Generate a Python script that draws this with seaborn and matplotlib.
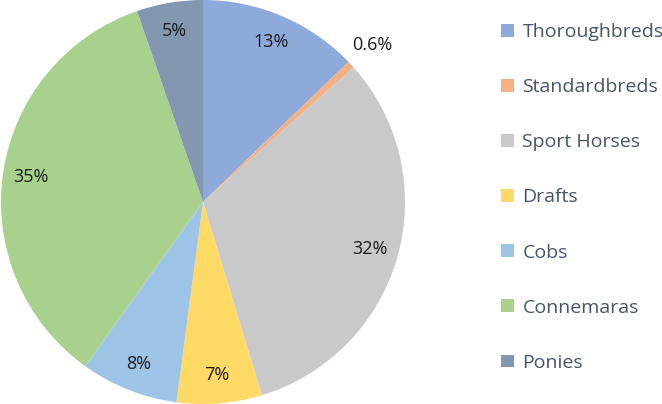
import matplotlib
matplotlib.use("Agg")
import matplotlib.pyplot as plt
import seaborn as sns
import numpy as np
from matplotlib.patches import Patch

# breed shares (percent)
breeds = ["Thoroughbreds", "Standardbreds", "Sport Horses", "Drafts",
          "Cobs", "Connemaras", "Ponies"]
shares = [12.8, 0.6, 31.9, 6.8, 7.8, 34.8, 5.3]
share_labels = ["13%", "0.6%", "32%", "7%", "8%", "35%", "5%"]
colors = ["#8EAADB", "#F4B183", "#C9C9C9", "#FFD966",
          "#9DC3E6", "#A9D18E", "#8497B0"]

sns.set_theme(style="white")
plt.rcParams["font.family"] = ["Open Sans", "DejaVu Sans"]

fig = plt.figure(figsize=(6.62, 4.04), dpi=100)
ax = fig.add_axes([1 / 662, 0 / 404, 404 / 662, 404 / 404])

wedges, texts = ax.pie(shares, colors=colors, startangle=90, counterclock=False,
                       labels=share_labels, labeldistance=0.86,
                       wedgeprops=dict(linewidth=0),
                       textprops=dict(fontsize=13, color="#1a1a1a", ha="center", va="center"))

# small slice label sits outside the pie
total = sum(shares)
cum = 0
for w, t, s in zip(wedges, texts, shares):
    if s < 2:
        mid = 90 - (cum + s / 2) / total * 360
        r = 1.14
        t.set_position((r * np.cos(np.radians(mid)), r * np.sin(np.radians(mid))))
    cum += s

ax.set_xlim(-1, 1)
ax.set_ylim(-1, 1)
ax.set_aspect("equal")
ax.axis("off")

handles = [Patch(facecolor=c, edgecolor="none") for c in colors]
leg = fig.legend(handles, breeds, loc="upper left", bbox_to_anchor=(501 / 662, 1 - 23 / 404),
                 frameon=False, fontsize=14, labelspacing=1.91,
                 handlelength=0.65, handleheight=0.65, handletextpad=0.45,
                 borderaxespad=0, borderpad=0)
for t in leg.get_texts():
    t.set_color("#44546A")

fig.savefig("out.png", dpi=100)
